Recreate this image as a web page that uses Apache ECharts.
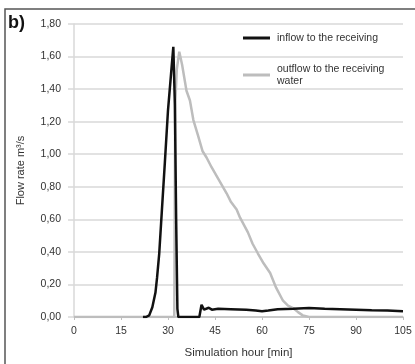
<!DOCTYPE html>
<html><head><meta charset="utf-8">
<script src="https://cdn.jsdelivr.net/npm/echarts@6/dist/echarts.min.js"></script>
<style>html,body{margin:0;padding:0;background:#fff}#c{width:415px;height:364px}</style>
</head><body><div id="c"></div>
<script>
var xTicks = [0, 15, 30, 45, 60, 75, 90, 105];
var yTickLabels = ['0,00','0,20','0,40','0,60','0,80','1,00','1,20','1,40','1,60','1,80'];
var inflowName = 'inflow to the receiving';
var outflowName = 'outflow to the receiving water';
var inflowX = [22, 23, 24, 25, 26, 26.5, 27.2, 28, 29, 30, 31, 31.7, 32.2, 32.6, 33, 33.3, 40, 40.7, 41.5, 42, 43, 44, 46, 50, 55, 58, 60, 62, 65, 70, 75, 80, 85, 90, 95, 100, 105];
var inflowY = [0, 0, 0.01, 0.06, 0.15, 0.24, 0.39, 0.64, 0.95, 1.27, 1.5, 1.66, 1.3, 0.6, 0.05, 0, 0, 0.075, 0.045, 0.035, 0.057, 0.045, 0.05, 0.048, 0.045, 0.04, 0.035, 0.04, 0.048, 0.05, 0.055, 0.05, 0.048, 0.045, 0.042, 0.04, 0.035];
var outflowX = [0, 32.0, 32.3, 32.8, 33.6, 34.5, 35.9, 37, 38.1, 39.5, 41, 42.3, 43.9, 46, 48.7, 50, 51.9, 53, 55.5, 57, 58.7, 60.5, 62.6, 64.5, 66.7, 68.3, 69.9, 71.5, 73, 75, 105];
var outflowY = [0, 0, 1.3, 1.52, 1.63, 1.55, 1.39, 1.33, 1.21, 1.12, 1.02, 0.98, 0.92, 0.85, 0.76, 0.71, 0.66, 0.61, 0.52, 0.45, 0.39, 0.33, 0.27, 0.18, 0.1, 0.07, 0.055, 0.03, 0.01, 0, 0];

function pairs(xs, ys){ return xs.map(function(x,i){ return [x, ys[i]]; }); }

var chart = echarts.init(document.getElementById('c'), null, {renderer:'canvas'});
var font = 'Liberation Sans';
chart.setOption({
  animation: false,
  backgroundColor: '#fff',
  graphic: [
    {type:'rect', shape:{x:5, y:9, width:420, height:420}, style:{fill:'none', stroke:'#555', lineWidth:1.5}, z:0},
    {type:'text', left:8, top:14, style:{text:'b)', font:'bold 18px "Liberation Sans"', fill:'#111'}}
  ],
  legend: {
    orient:'vertical', left:238, top:27, itemGap:19,
    icon:'rect', itemWidth:27, itemHeight:3,
    textStyle:{fontFamily:font, fontSize:10.5, color:'#333', lineHeight:12, padding:[0,0,0,2]},
    formatter: function(n){ return n === outflowName ? 'outflow to the receiving\nwater' : n; },
    data:[inflowName, outflowName]
  },
  grid: {left:74, right:12, top:24, bottom:47},
  xAxis: {
    type:'value', min:0, max:105, interval:15,
    name:'Simulation hour [min]', nameLocation:'middle', nameGap:30,
    nameTextStyle:{fontFamily:font, fontSize:11.5, color:'#333'},
    axisLine:{lineStyle:{color:'#bfbfbf', width:1.5}},
    axisTick:{show:true, length:3, lineStyle:{color:'#bfbfbf'}},
    axisLabel:{fontFamily:font, fontSize:10.5, color:'#333', margin:9,
      formatter:function(v){ return xTicks.indexOf(v) >= 0 ? String(v) : ''; }},
    splitLine:{show:false}
  },
  yAxis: {
    type:'value', min:0, max:1.8, interval:0.2,
    name:'Flow rate m³/s', nameLocation:'middle', nameGap:48,
    nameTextStyle:{fontFamily:font, fontSize:11, color:'#333'},
    axisLine:{show:true, lineStyle:{color:'#d9d9d9', width:1.5}},
    axisTick:{show:true, length:6, lineStyle:{color:'#d9d9d9', width:1.5}},
    axisLabel:{fontFamily:font, fontSize:10.5, color:'#333', margin:13,
      formatter:function(v){ return yTickLabels[Math.round(v/0.2)]; }},
    splitLine:{lineStyle:{color:'#d9d9d9', width:1.5}}
  },
  series: [
    {name:outflowName, type:'line', data:pairs(outflowX, outflowY), showSymbol:false, symbol:'none',
     lineStyle:{color:'#bdbdbd', width:2.5}, itemStyle:{color:'#bdbdbd'}, z:2},
    {name:inflowName, type:'line', data:pairs(inflowX, inflowY), showSymbol:false, symbol:'none',
     lineStyle:{color:'#111', width:2.5}, itemStyle:{color:'#111'}, z:3}
  ]
});
</script></body></html>
